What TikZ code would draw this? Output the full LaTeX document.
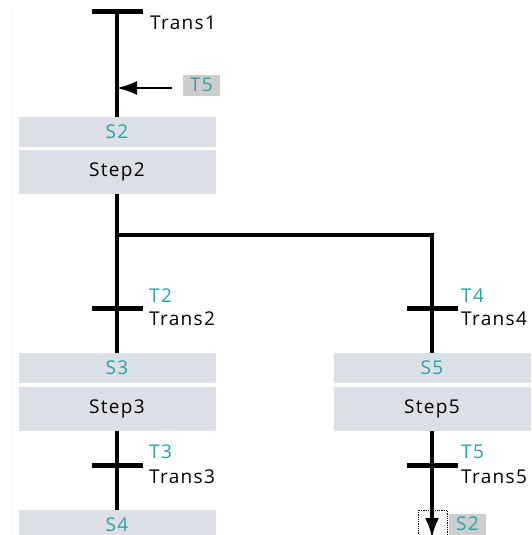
\documentclass[tikz,border=0pt]{standalone}
\usepackage{fontspec}
\setmainfont{Open Sans}[LetterSpace=7]
\usetikzlibrary{arrows.meta}
\definecolor{stepfill}{RGB}{221,223,230}
\definecolor{tealtxt}{RGB}{45,160,165}
\definecolor{lblfill}{RGB}{205,205,205}

\begin{document}
\begin{tikzpicture}[x=1pt,y=-1pt,every node/.style={font=\fontsize{19}{22}\selectfont},
  stepname/.style={rectangle,fill=stepfill,minimum width=197pt,minimum height=30pt,inner sep=0pt,text=tealtxt},
  steptext/.style={rectangle,fill=stepfill,minimum width=197pt,minimum height=44pt,inner sep=0pt},
  tbar/.style={rectangle,fill=black,minimum width=51pt,minimum height=5pt,inner sep=0pt},
  tname/.style={anchor=west,inner sep=0pt,text=tealtxt},
  tcond/.style={anchor=west,inner sep=0pt},
  jumplbl/.style={rectangle,fill=lblfill,text=tealtxt,inner sep=0pt,minimum height=21pt},
  link/.style={line width=3.4pt}]
\useasboundingbox (0,0) rectangle (531,535);
\clip (0,0) rectangle (531,535);
\draw[gray!8,line width=1pt] (11,8) -- (11,535);
% left branch
\node[tbar] (t1) at (117,12) {};
\node[tcond] (t1c) at (150,23) {Trans1};
\coordinate (j1) at (117,88);
\node[jumplbl,minimum width=37pt] (j1l) at (201.5,85) {T5};
\node[stepname] (s2) at (117,132) {S2};
\node[steptext] (step2) at (117,172) {Step2};
\node[tbar] (t2) at (117,308) {};
\node[tname] (t2n) at (149,296) {T2};
\node[tcond] (t2c) at (149,319) {Trans2};
\node[stepname] (s3) at (117,368) {S3};
\node[steptext] (step3) at (117,408.5) {Step3};
\node[tbar] (t3) at (117,465) {};
\node[tname] (t3n) at (149,452) {T3};
\node[tcond] (t3c) at (149,477) {Trans3};
\node[stepname] (s4) at (117,525) {S4};
% right branch
\coordinate (br) at (117,235);
\node[tbar] (t4) at (432,308) {};
\node[tname] (t4n) at (461,296) {T4};
\node[tcond] (t4c) at (461,319) {Trans4};
\node[stepname] (s5) at (432,368) {S5};
\node[steptext] (step5) at (432,408.5) {Step5};
\node[tbar] (t5) at (432,465) {};
\node[tname] (t5n) at (461,452) {T5};
\node[tcond] (t5c) at (461,477) {Trans5};
\coordinate (jend) at (432,538);
\node[draw,densely dotted,line width=0.8pt,minimum width=29pt,minimum height=32pt,inner sep=0pt] (jbox) at (432.5,526) {};
\node[jumplbl,minimum width=37pt] (j2l) at (467.5,524) {S2};
% links
\draw[link] (t1.center) -- (s2.north);
\draw[line width=2.2pt,-{Latex[length=20pt,width=14pt]},shorten <=11pt] (j1l.west|-j1) -- (j1);
\draw[link] (step2.south) -- (br) -- (s3.north);
\draw[link] (br) -| (s5.north);
\draw[link] (step3.south) -- (s4.north);
\draw[link,-{Latex[length=20pt,width=14pt]}] (step5.south) -- (jend);
\end{tikzpicture}
\end{document}
